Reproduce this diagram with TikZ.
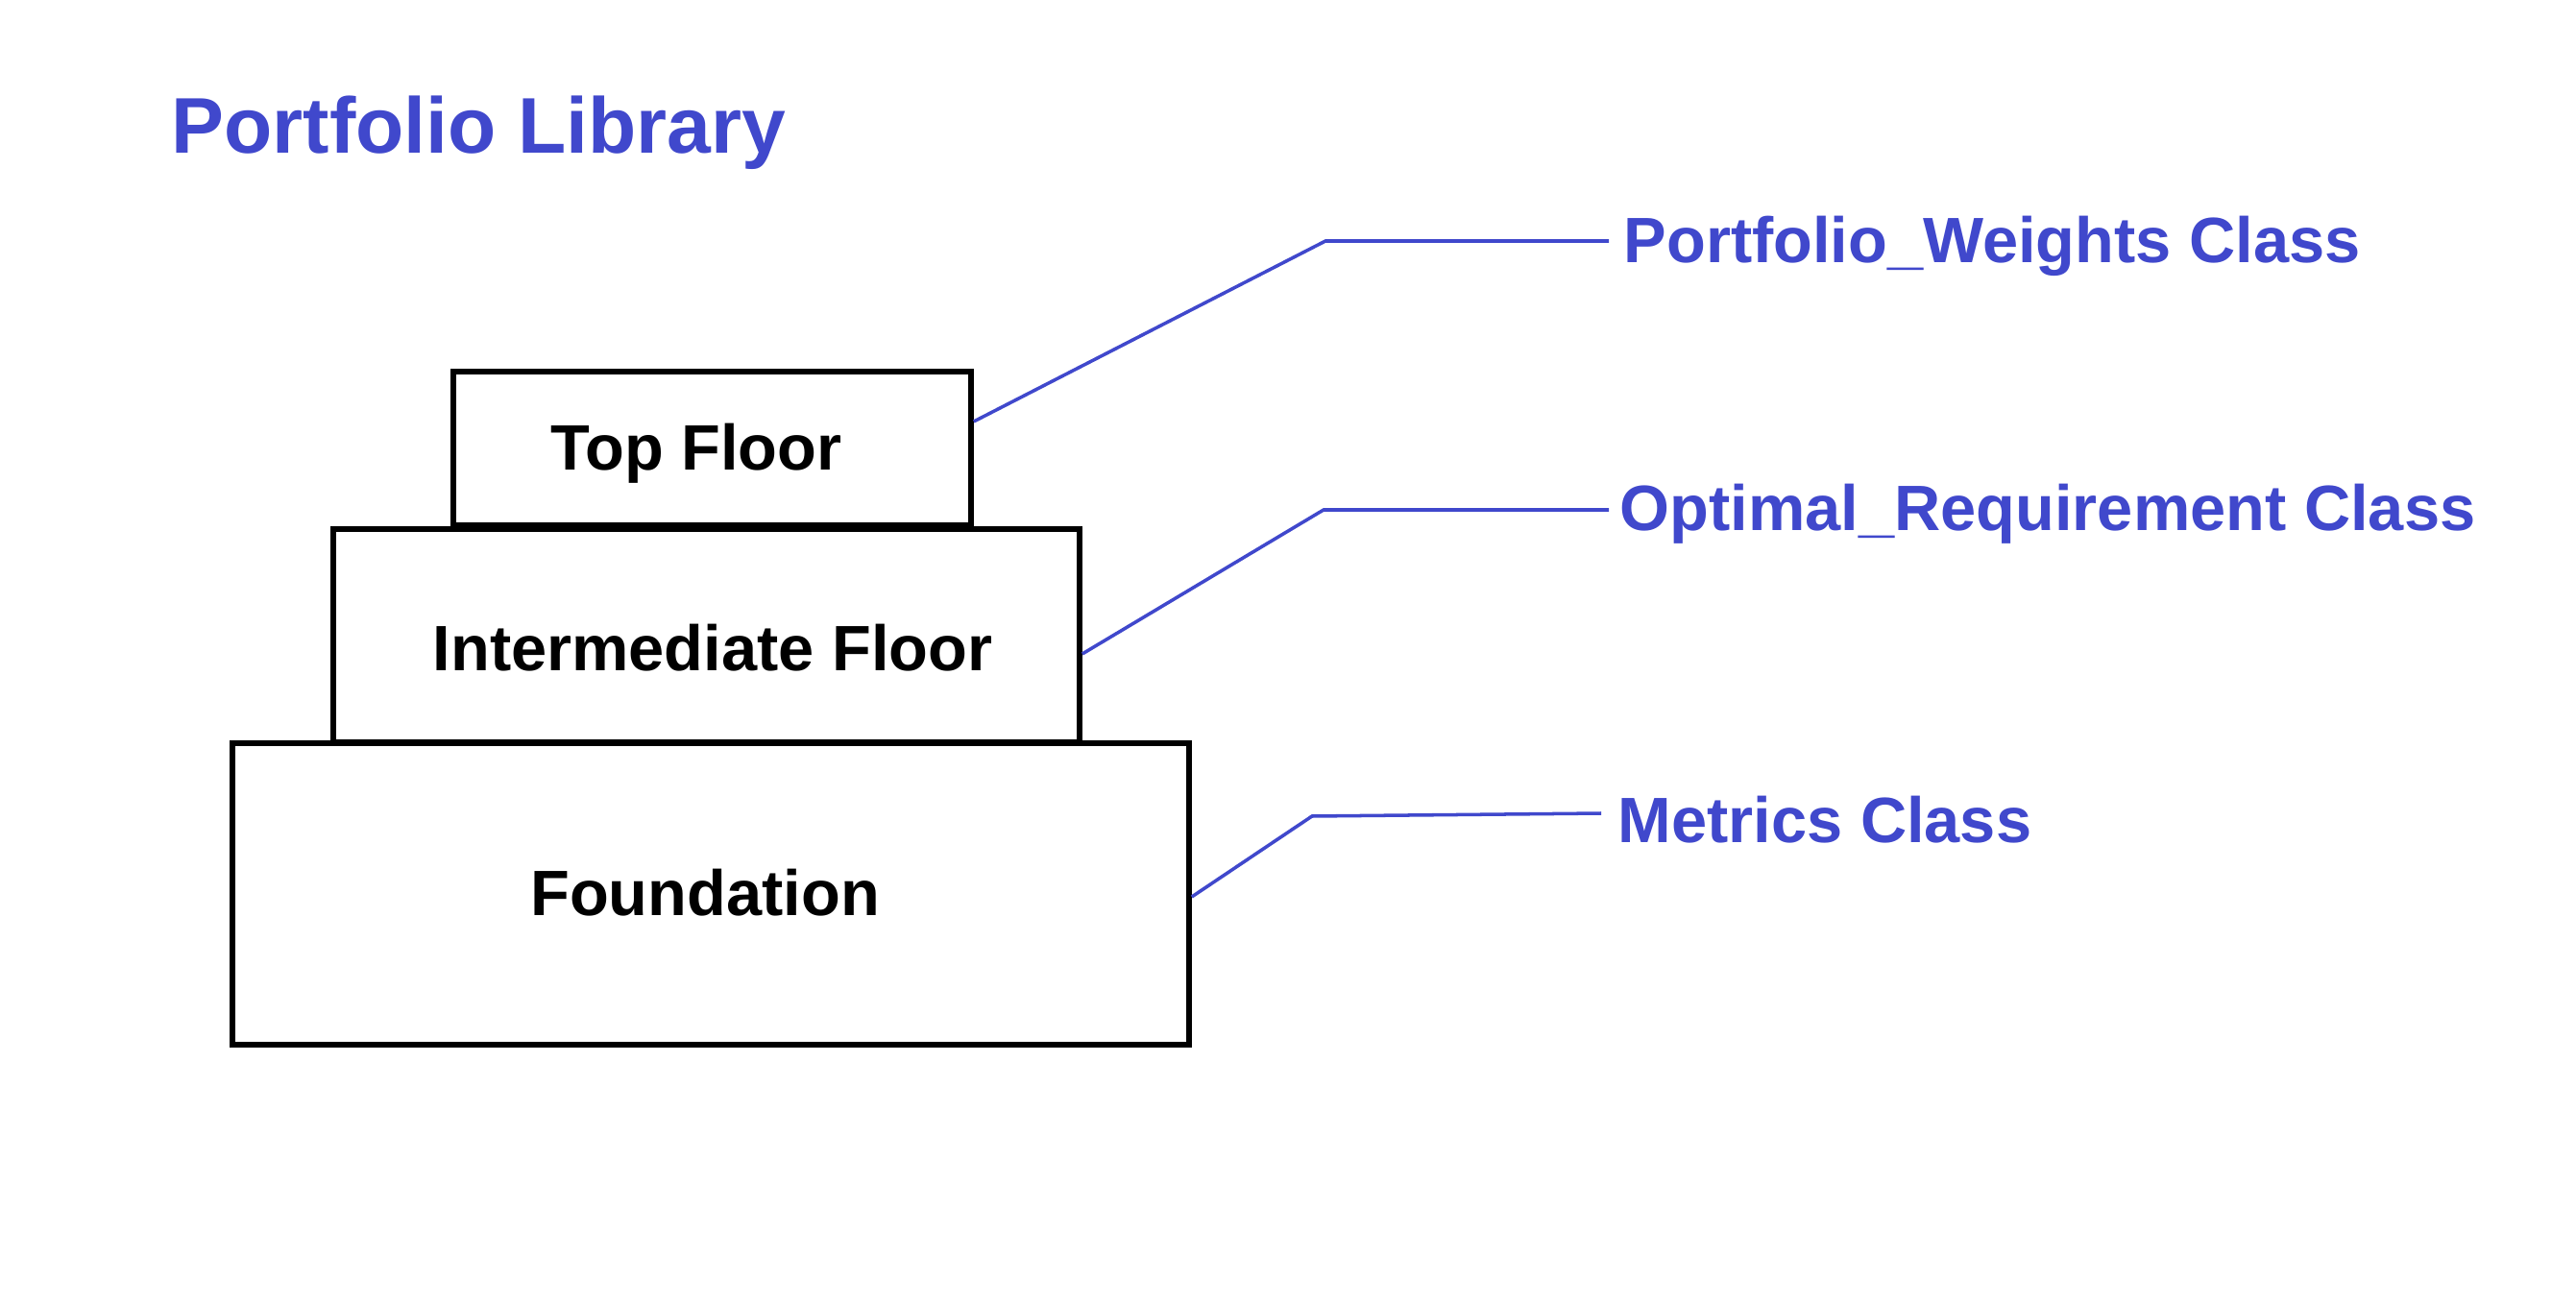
\documentclass[tikz,border=0pt]{standalone}
\usepackage{fontspec}
\setmainfont{Liberation Sans}
\definecolor{classblue}{RGB}{64,72,204}

\begin{document}
\begin{tikzpicture}[
        floor/.style={draw=black, line width=1.6pt, inner sep=0pt},
        floortext/.style={anchor=base, inner sep=0pt, font=\fontsize{19}{22}\selectfont\bfseries},
        leader/.style={draw=classblue, line width=1pt},
        classlabel/.style={anchor=base west, inner sep=0pt, text=classblue, font=\fontsize{19}{22}\selectfont\bfseries}
    ]
        \useasboundingbox[fill=white] (0,0) rectangle (26.82,13.56);
        \node[anchor=base west, inner sep=0pt, text=classblue, font=\fontsize{23.4}{28}\selectfont\bfseries] (title) at (1.78,11.96) {Portfolio Library};
        % the three floors
        \node[floor, minimum width=9.96cm, minimum height=3.14cm] (foundation) at (7.40,4.25) {};
        \node[floor, minimum width=7.77cm, minimum height=2.22cm] (middle) at (7.355,6.94) {};
        \node[floor, minimum width=5.39cm, minimum height=1.60cm] (top) at (7.415,8.89) {};
        \node[floortext] (foundationtext) at (7.34,4.03) {Foundation};
        \node[floortext] (middletext) at (7.42,6.58) {Intermediate Floor};
        \node[floortext] (toptext) at (7.25,8.66) {Top Floor};
        % class labels
        \node[classlabel] (weights) at (16.90,10.82) {Portfolio\_Weights Class};
        \node[classlabel] (optimal) at (16.86,8.03) {Optimal\_Requirement Class};
        \node[classlabel] (metrics) at (16.84,4.79) {Metrics Class};
        \coordinate (kneeA) at (13.80,11.05);
        \coordinate (endA) at (16.75,11.05);
        \coordinate (kneeB) at (13.78,8.25);
        \coordinate (endB) at (16.75,8.25);
        \coordinate (kneeC) at (13.66,5.06);
        \coordinate (endC) at (16.67,5.09);
        \draw[leader] ([yshift=0.28cm]top.east) -- (kneeA) -- (endA);
        \draw[leader] ([yshift=-0.19cm]middle.east) -- (kneeB) -- (endB);
        \draw[leader] ([yshift=-0.03cm]foundation.east) -- (kneeC) -- (endC);
    \end{tikzpicture}
\end{document}
